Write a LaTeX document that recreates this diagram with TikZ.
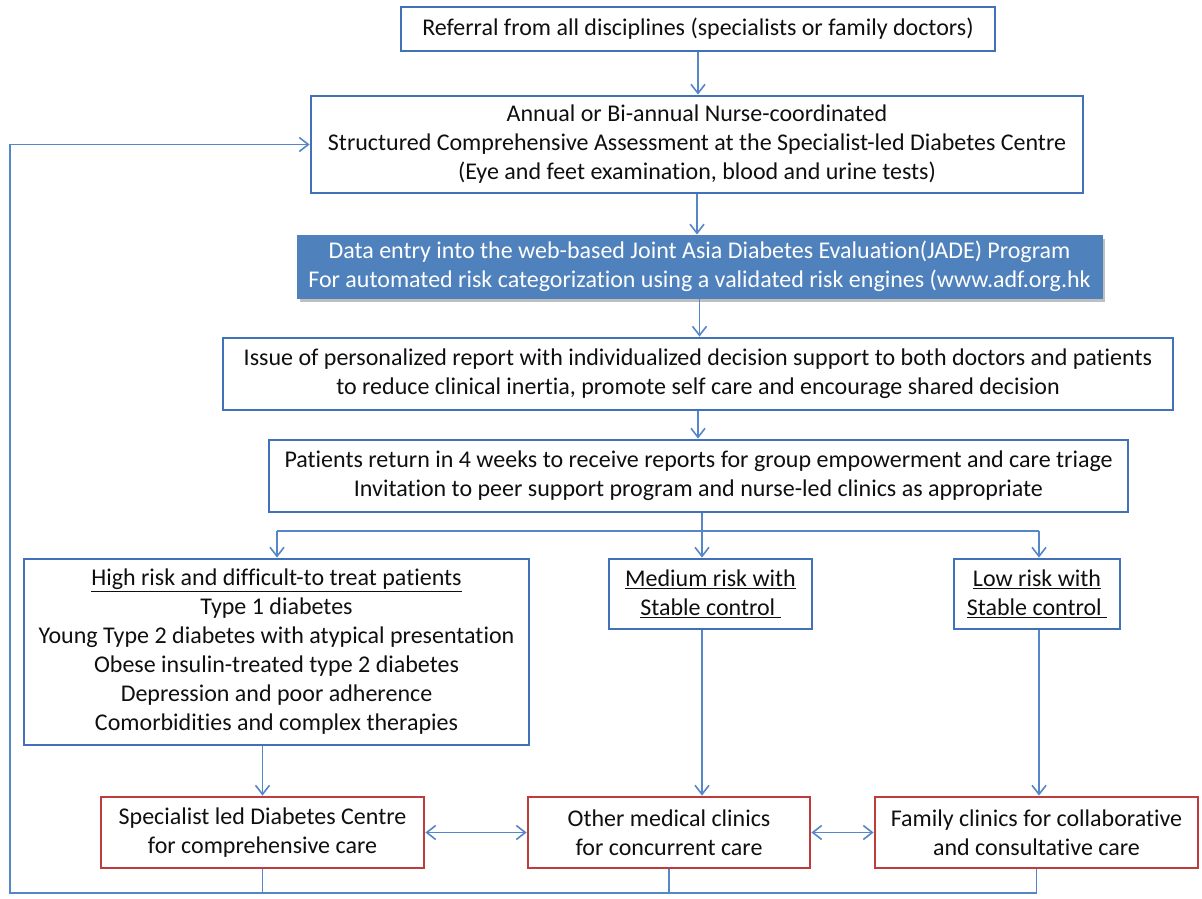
\documentclass[tikz,border=0pt]{standalone}
\usepackage{fontspec}
\setmainfont{Carlito}[Ligatures=CommonOff]
\usetikzlibrary{arrows.meta,shadows}
\definecolor{boxblue}{RGB}{65,113,185}
\definecolor{lineblue}{RGB}{84,134,200}
\definecolor{jadeblue}{RGB}{79,129,189}
\definecolor{boxred}{RGB}{190,60,60}
\definecolor{txt}{RGB}{15,15,15}
\begin{document}
\begin{tikzpicture}[x=1pt,y=-1pt,
  every node/.style={font=\fontsize{24}{29}\selectfont, align=center, inner sep=0pt, text=txt},
  bbox/.style={draw=boxblue, line width=2.8pt},
  rbox/.style={draw=boxred, line width=2.8pt},
  jbox/.style={fill=jadeblue, draw=jadeblue, line width=1pt, text=white,
    drop shadow={shadow xshift=3pt, shadow yshift=-4pt, fill=black, opacity=0.25}},
  conn/.style={draw=lineblue, line width=1.6pt},
  arr/.style={conn, -{Straight Barb[length=9pt,width=14pt,line width=1.6pt]}},
  darr/.style={conn, {Straight Barb[length=9pt,width=14pt,line width=1.6pt]}-{Straight Barb[length=9pt,width=14pt,line width=1.6pt]}}]
\useasboundingbox (0,0) rectangle (1202,899);

\node[bbox, minimum width=594pt, minimum height=44pt] (top) at (698,29)
  {Referral from all disciplines (specialists or family doctors)};
\node[bbox, minimum width=772pt, minimum height=97pt] (assess) at (697,144.5)
  {Annual or Bi-annual Nurse-coordinated\\Structured Comprehensive Assessment at the Specialist-led Diabetes Centre\\(Eye and feet examination, blood and urine tests)};
\node[jbox, minimum width=805pt, minimum height=63pt] (jade) at (699.5,266.5)
  {Data entry into the web-based Joint Asia Diabetes Evaluation(JADE) Program\\For automated risk categorization using a validated risk engines (www.adf.org.hk};
\node[bbox, minimum width=950pt, minimum height=72pt] (issue) at (698,374)
  {Issue of personalized report with individualized decision support to both doctors and patients\\to reduce clinical inertia, promote self care and encourage shared decision};
\node[bbox, minimum width=859pt, minimum height=72pt] (ret) at (698.5,476)
  {Patients return in 4 weeks to receive reports for group empowerment and care triage\\Invitation to peer support program and nurse-led clinics as appropriate};

\node[bbox, minimum width=505pt, minimum height=186pt] (high) at (276.5,652)
  {\underline{High risk and difficult-to treat patients}\\Type 1 diabetes\\Young Type 2 diabetes with atypical presentation\\Obese insulin-treated type 2 diabetes\\Depression and poor adherence\\Comorbidities and complex therapies};
\node[bbox, minimum width=203pt, minimum height=70pt] (med) at (710.5,594)
  {\underline{Medium risk with}\\\underline{Stable control\ }};
\node[bbox, minimum width=166pt, minimum height=70pt] (low) at (1037,594)
  {\underline{Low risk with}\\\underline{Stable control\ }};

\node[rbox, minimum width=323pt, minimum height=71pt] (spec) at (262.5,832.5)
  {Specialist led Diabetes Centre\\for comprehensive care};
\node[rbox, minimum width=282pt, minimum height=71pt] (other) at (669,832.5)
  {Other medical clinics\\for concurrent care};
\node[rbox, minimum width=323pt, minimum height=71pt] (fam) at (1036.5,832.5)
  {Family clinics for collaborative\\and consultative care};

% main vertical flow
\draw[arr] (top.south) -- (top.south |- assess.north);
\draw[arr] (assess.south) -- (assess.south |- jade.north);
\draw[arr] (jade.south) -- (jade.south |- issue.north);
\draw[arr] (issue.south) -- (issue.south |- ret.north);

% branching
\coordinate (bh) at (277,531);
\coordinate (bm) at (702,531);
\coordinate (bl) at (1039,531);
\draw[conn] (bm |- ret.south) -- (bm);
\draw[conn] (bh) -- (bl);
\draw[arr] (bh) -- (bh |- high.north);
\draw[arr] (bm) -- (bm |- med.north);
\draw[arr] (bl) -- (bl |- low.north);

% to care settings
\draw[arr] (spec.north |- high.south) -- (spec.north);
\draw[arr] (bm |- med.south) -- (bm |- other.north);
\draw[arr] (bl |- low.south) -- (bl |- fam.north);

% between care settings
\draw[darr] (spec.east) -- (other.west);
\draw[darr] (other.east) -- (fam.west);

% feedback loop
\coordinate (lp) at (10,893);
\draw[conn] (spec.south) -- (spec.south |- lp);
\draw[conn] (other.south) -- (other.south |- lp);
\draw[arr] (fam.south) -- (fam.south |- lp) -- (lp) |- (assess.west);
\end{tikzpicture}
\end{document}
